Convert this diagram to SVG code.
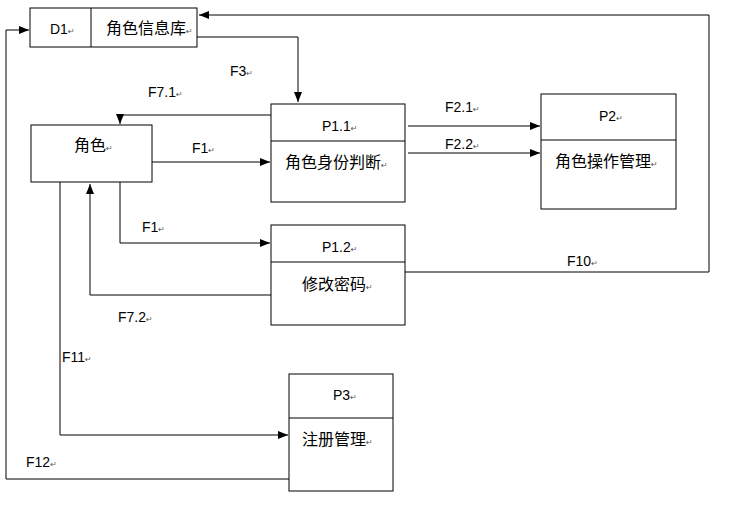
<svg xmlns="http://www.w3.org/2000/svg" width="736" height="514" viewBox="0 0 736 514">
<style>
.b{fill:#fff;stroke:#000;stroke-width:1}
.l{fill:none;stroke:#000;stroke-width:1}
.t{font-family:"Liberation Sans","Noto Sans CJK SC",sans-serif;font-size:14px;fill:#000}
.c{font-family:"Noto Sans CJK SC",sans-serif;font-size:16px;fill:#000}
.r{font-family:"DejaVu Sans",sans-serif;font-size:8px;fill:#555}
</style>
<defs><marker id="a" markerWidth="10" markerHeight="8" refX="10" refY="4" orient="auto" markerUnits="userSpaceOnUse"><path d="M0,0L10,4L0,8z" fill="#000"/></marker></defs>
<rect width="736" height="514" fill="#fff"/>
<g id="connectors">
<path class="l" d="M197,37H298V102" marker-end="url(#a)"/>
<path class="l" d="M271,115H120V124" marker-end="url(#a)"/>
<path class="l" d="M152,162H270" marker-end="url(#a)"/>
<path class="l" d="M120,182V243H270" marker-end="url(#a)"/>
<path class="l" d="M271,295H90V184" marker-end="url(#a)"/>
<path class="l" d="M408,126H540" marker-end="url(#a)"/>
<path class="l" d="M408,153H540" marker-end="url(#a)"/>
<path class="l" d="M405,272H709V15H199" marker-end="url(#a)"/>
<path class="l" d="M60,182V435H288" marker-end="url(#a)"/>
<path class="l" d="M289,479H6V30H29" marker-end="url(#a)"/>
<text class="t" x="230" y="76">F3<tspan class="r">↵</tspan></text>
<text class="t" x="148" y="97">F7.1<tspan class="r">↵</tspan></text>
<text class="t" x="192" y="153">F1<tspan class="r">↵</tspan></text>
<text class="t" x="142" y="232">F1<tspan class="r">↵</tspan></text>
<text class="t" x="118" y="322">F7.2<tspan class="r">↵</tspan></text>
<text class="t" x="445" y="112">F2.1<tspan class="r">↵</tspan></text>
<text class="t" x="445" y="149">F2.2<tspan class="r">↵</tspan></text>
<text class="t" x="567" y="266">F10<tspan class="r">↵</tspan></text>
<text class="t" x="62" y="362">F11<tspan class="r">↵</tspan></text>
<text class="t" x="26" y="467">F12<tspan class="r">↵</tspan></text>
</g>
<g id="D1"><rect class="b" x="30" y="8" width="167" height="39"/><line class="l" x1="91" y1="8" x2="91" y2="47"/>
<text class="t" x="50" y="34">D1<tspan class="r">↵</tspan></text><text class="c" x="106" y="34">角色信息库<tspan class="r">↵</tspan></text></g>
<g id="role"><rect class="b" x="31" y="125" width="121" height="57"/><text class="c" x="74" y="151">角色<tspan class="r">↵</tspan></text></g>
<g id="P1.1"><rect class="b" x="271" y="104" width="134" height="98"/><line class="l" x1="271" y1="141" x2="405" y2="141"/>
<text class="t" x="322" y="131">P1.1<tspan class="r">↵</tspan></text><text class="c" x="285" y="168">角色身份判断<tspan class="r">↵</tspan></text></g>
<g id="P2"><rect class="b" x="541" y="94" width="135" height="115"/><line class="l" x1="541" y1="140" x2="676" y2="140"/>
<text class="t" x="599" y="121">P2<tspan class="r">↵</tspan></text><text class="c" x="555" y="167">角色操作管理<tspan class="r">↵</tspan></text></g>
<g id="P1.2"><rect class="b" x="271" y="225" width="134" height="100"/><line class="l" x1="271" y1="262" x2="405" y2="262"/>
<text class="t" x="322" y="252">P1.2<tspan class="r">↵</tspan></text><text class="c" x="302" y="290">修改密码<tspan class="r">↵</tspan></text></g>
<g id="P3"><rect class="b" x="289" y="374" width="104" height="117"/><line class="l" x1="289" y1="418" x2="393" y2="418"/>
<text class="t" x="333" y="400">P3<tspan class="r">↵</tspan></text><text class="c" x="302" y="445">注册管理<tspan class="r">↵</tspan></text></g>
</svg>
